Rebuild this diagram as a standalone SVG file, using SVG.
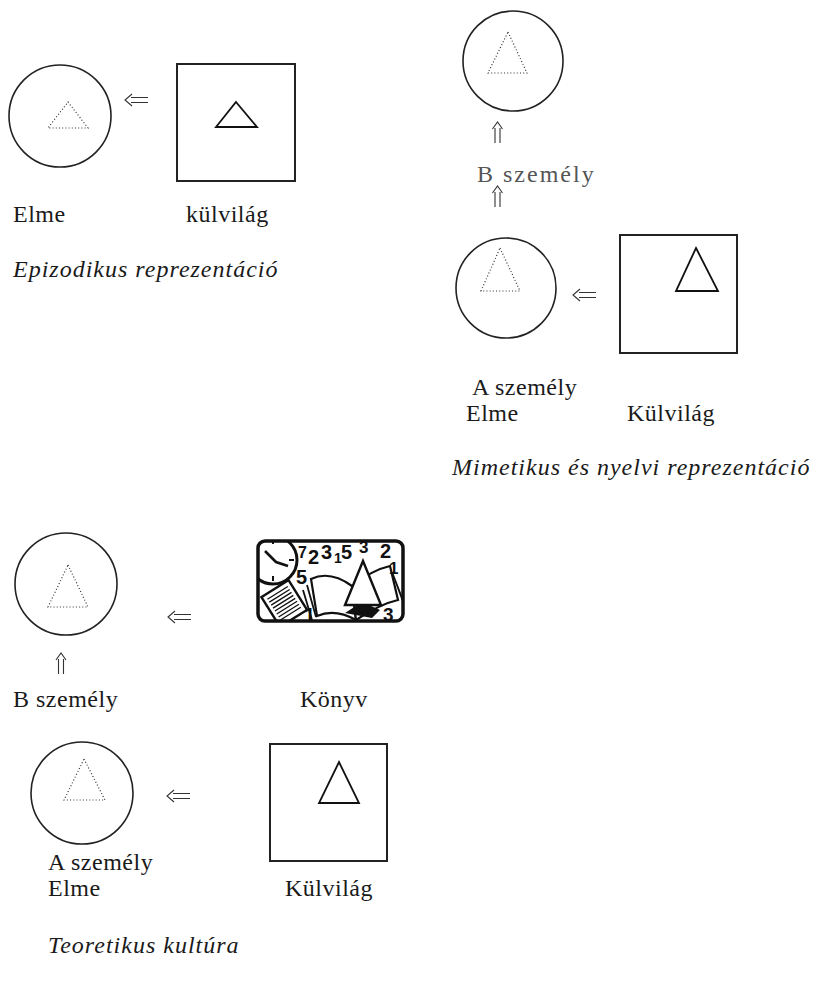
<svg xmlns="http://www.w3.org/2000/svg" width="818" height="986" viewBox="0 0 818 986">
<style>
.mind{fill:none;stroke:#222;stroke-width:1.6}
.dot{fill:none;stroke:#333;stroke-width:1.2;stroke-dasharray:1 2.2}
.box{fill:none;stroke:#222;stroke-width:2}
.tri{fill:none;stroke:#111;stroke-width:1.8;stroke-linejoin:miter}
.lbl{font-family:'Liberation Serif','DejaVu Serif',serif;font-size:24px;letter-spacing:0.5px;fill:#1a1a1a}
.lite{fill:#555}
.cap{font-family:'Liberation Serif','DejaVu Serif',serif;font-size:24px;letter-spacing:1px;font-style:italic;fill:#1a1a1a}
.arr{fill:none;stroke:#333;stroke-width:1.1}
.num{font-family:'Liberation Sans','DejaVu Sans',sans-serif;font-weight:bold;fill:#111}
</style>
<defs>
<clipPath id="bookclip"><rect x="258" y="541" width="145" height="80" rx="7"/></clipPath>
</defs>
<rect width="818" height="986" fill="#fff"/>

<!-- Section 1: Epizodikus -->
<g id="s1-mind">
<circle class="mind" cx="60" cy="116" r="51"/>
<path class="dot" d="M68,102 L88,128 L48,128 Z"/>
</g>
<g id="s1-world">
<rect class="box" x="177" y="64" width="118" height="117"/>
<path class="tri" d="M236,102 L257,127 L216,127 Z"/>
</g>
<text class="lbl" x="13" y="222">Elme</text>
<text class="lbl" x="186" y="222">külvilág</text>
<text class="cap" x="13" y="277">Epizodikus reprezentáció</text>

<!-- Section 2: Mimetikus -->
<g id="s2-mindB">
<circle class="mind" cx="513" cy="61" r="50"/>
<path class="dot" d="M508,32 L527,73 L488,73 Z"/>
</g>
<text class="lbl lite" x="477" y="182" style="letter-spacing:2px">B személy</text>
<g id="s2-mindA">
<circle class="mind" cx="506" cy="288" r="50"/>
<path class="dot" d="M500,248 L520,291 L481,291 Z"/>
</g>
<g id="s2-world">
<rect class="box" x="620" y="235" width="117" height="118"/>
<path class="tri" d="M696,248 L718,291 L676,291 Z"/>
</g>
<text class="lbl" x="472" y="395">A személy</text>
<text class="lbl" x="466" y="421">Elme</text>
<text class="lbl" x="627" y="421">Külvilág</text>
<text class="cap" x="452" y="475">Mimetikus és nyelvi reprezentáció</text>

<!-- Section 3: Könyv -->
<g id="s3-mindB">
<circle class="mind" cx="66" cy="584" r="51"/>
<path class="dot" d="M68,565 L88,607 L48,607 Z"/>
</g>
<g id="s3-book">
<g clip-path="url(#bookclip)">
<circle cx="273" cy="560" r="24" fill="#fff" stroke="#111" stroke-width="3"/>
<path d="M273,539 V544 M294,560 H289 M273,581 V576 M252,560 H257" stroke="#111" stroke-width="2"/>
<path d="M265,551 L276,562 L288,566" fill="none" stroke="#111" stroke-width="2.6"/>
<g transform="rotate(-32 284 603)">
<rect x="268" y="586" width="32" height="35" fill="#fff" stroke="#111" stroke-width="2.4"/>
<path d="M272,591 H296 M272,594.5 H296 M272,598 H296 M272,601.5 H296 M272,605 H296 M272,608.5 H296 M272,612 H296 M272,615.5 H296" stroke="#111" stroke-width="1.3"/>
</g>
<path d="M311,579 Q330,570 352,586 L356,620 Q335,608 317,616 Z" fill="#fff" stroke="#111" stroke-width="2.2"/>
<path d="M307,585 L316,617 M303,590 L312,620" stroke="#111" stroke-width="1.8"/>
<path d="M352,586 Q372,570 390,566 L398,600 Q380,604 356,620 Z" fill="#fff" stroke="#111" stroke-width="2.2"/>
<path d="M392,572 L402,598 M395,580 L404,604" stroke="#111" stroke-width="1.8"/>
<path d="M345,613 L362,602 L380,610 L372,618 Z" fill="#111"/>
<path d="M363,561 L381,605 L345,605 Z" fill="#fff" stroke="#111" stroke-width="2.4"/>
<text class="num" x="298" y="558" font-size="16">7</text>
<text class="num" x="308" y="564" font-size="20">2</text>
<text class="num" x="321" y="559" font-size="20">3</text>
<text class="num" x="334" y="563" font-size="14">1</text>
<text class="num" x="341" y="559" font-size="20">5</text>
<text class="num" x="359" y="553" font-size="17">3</text>
<text class="num" x="380" y="558" font-size="20">2</text>
<text class="num" x="389" y="574" font-size="17">1</text>
<text class="num" x="296" y="584" font-size="20">5</text>
<text class="num" x="304" y="622" font-size="20">1</text>
<text class="num" x="383" y="621" font-size="19">3</text>
</g>
<rect x="258" y="541" width="145" height="80" rx="7" fill="none" stroke="#111" stroke-width="3.5"/>
</g>
<text class="lbl" x="13" y="707">B személy</text>
<text class="lbl" x="300" y="707">Könyv</text>

<!-- Section 4: Teoretikus -->
<g id="s4-mindA">
<circle class="mind" cx="82" cy="793" r="51"/>
<path class="dot" d="M84,759 L105,800 L64,800 Z"/>
</g>
<g id="s4-world">
<rect class="box" x="270" y="744" width="117" height="117"/>
<path class="tri" d="M339,762 L359,803 L319,803 Z"/>
</g>
<text class="lbl" x="48" y="870">A személy</text>
<text class="lbl" x="48" y="896">Elme</text>
<text class="lbl" x="285" y="896">Külvilág</text>
<text class="cap" x="48" y="953">Teoretikus kultúra</text>

<!-- connectors -->
<g id="connectors" class="arr">
<path d="M148,97.5 H131 M148,102.5 H131 M132,94 L125,100 L132,106"/>
<path d="M495,143 V128 M500,143 V128 M492.5,129 L497.5,122 L502.5,129"/>
<path d="M495,207 V192 M500,207 V192 M492.5,193 L497.5,186 L502.5,193"/>
<path d="M596,292.5 H579 M596,297.5 H579 M580,289 L573,295 L580,301"/>
<path d="M191,614.5 H174 M191,619.5 H174 M175,611 L168,617 L175,623"/>
<path d="M58.5,674 V659 M63.5,674 V659 M56,660 L61,653 L66,660"/>
<path d="M190,793.5 H173 M190,798.5 H173 M174,790 L167,796 L174,802"/>
</g>
</svg>
